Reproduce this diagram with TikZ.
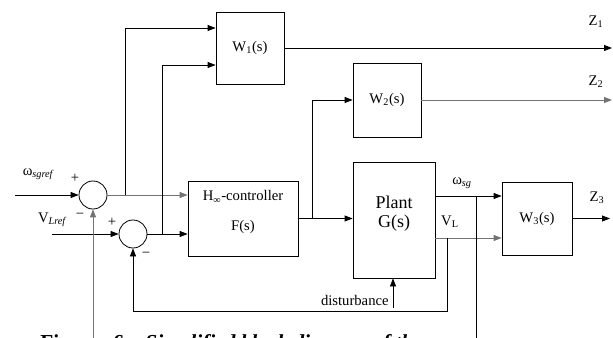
\documentclass[tikz,border=0pt]{standalone}
\usepackage{fontspec}
\setmainfont{Liberation Serif}
\usetikzlibrary{arrows.meta,calc}

\begin{document}
\begin{tikzpicture}[x=.75pt,y=-.75pt,>={Triangle[length=6pt,width=4.5pt]},
  font=\fontsize{11}{13}\selectfont,
  every node/.style={inner sep=0pt},
  line width=.6pt,
  blk/.style={draw,align=center},
  sumj/.style={draw,circle,minimum size=21pt},
  sig/.style={black!55}]
\path[use as bounding box] (0,0) rectangle (613,338);
\clip (0,0) rectangle (613,338);

% summing junctions and blocks
\node[sumj] (s1) at (93,195) {};
\node[sumj] (s2) at (133,234) {};
\node[blk,minimum width=82.5pt,minimum height=56.25pt] (ctrl) at (243,218.5) {};
\node (ctrlh) at (243,197) {H\textsubscript{∞}-controller};
\node (ctrlf) at (243,227) {F(s)};
\node[blk,minimum width=51pt,minimum height=54pt] (W1) at (250,48) {W\textsubscript{1}(s)};
\node[blk,minimum width=51pt,minimum height=55.5pt] (W2) at (387,100) {W\textsubscript{2}(s)};
\node[blk,minimum width=61.5pt,minimum height=87pt] (plant) at (394,220) {};
\node[font=\fontsize{13.5}{16}\selectfont] (plantn) at (394,202) {Plant};
\node[font=\fontsize{13.5}{16}\selectfont] (plantg) at (394,223) {G(s)};
\node[blk,minimum width=52.5pt,minimum height=54.75pt] (W3) at (537,218.5) {W\textsubscript{3}(s)};

% inputs
\coordinate (wsin) at (15,195);
\coordinate (vlin) at (52,234);
\draw[->] (wsin) -- (s1);
\draw[->] (vlin) -- (s2);
\node (wsl) at (38,174) {ω\textsubscript{\itshape sgref}};
\node (vll) at (52,220) {V\textsubscript{\itshape Lref}};
\node (p1) at (75,178) {+};
\node (m1) at (80,216) {−};
\node (p2) at (112,222) {+};
\node (m2) at (146,255) {−};

% errors to controller and W1
\draw[->,sig] (s1) -- (s1 -| ctrl.west);
\draw[->] (s2) -- (s2 -| ctrl.west);
\coordinate (b1) at (125,195);
\coordinate (b2) at (162,234);
\draw[->] (b1) |- ($(W1.west)+(0,-20)$);
\draw[->] (b2) |- ($(W1.west)+(0,17)$);

% control signal
\draw[->] (ctrl.east) -- (ctrl.east -| plant.west);
\coordinate (b3) at (312,218.5);
\draw[->] (b3) |- (W2.west);

% weighted outputs
\coordinate (zend) at (612,0);
\draw[->] (W1.east) -- (W1.east -| zend);
\draw[->,sig] (W2.east) -- (W2.east -| zend);
\draw[->] (W3.east) -- ($(W3.east -| zend)+(-2,0)$);
\node (z1l) at (596,22) {Z\textsubscript{1}};
\node (z2l) at (596,82) {Z\textsubscript{2}};
\node (z3l) at (597,198) {Z\textsubscript{3}};

% plant outputs
\coordinate (jw) at (476,196);
\coordinate (jv) at (447,238);
\draw[->] (plant.east |- jw) -- (W3.west |- jw);
\draw[->,sig] (plant.east |- jv) -- (W3.west |- jv);
\node (wsgl) at (462,183) {ω\textsubscript{\itshape sg}};
\node (vLl) at (450,222) {V\textsubscript{L}};

% feedback paths
\coordinate (fbl) at (133,311);
\draw[->] (jv) |- (fbl) -- (s2.south);
\coordinate (wout) at (476,340);
\draw (jw) -- (wout);
\coordinate (wsfb) at (93,340);
\draw[->,sig] (wsfb) -- (s1.south);

% disturbance
\coordinate (dist) at (393,308);
\draw[->] (dist) -- (dist |- plant.south);
\node[anchor=east] (distl) at (389,300) {disturbance};

% caption (cut off)
\node[anchor=base west,font=\fontsize{16}{19}\selectfont\bfseries] (capa) at (40,349) {Figure};
\node[anchor=base west,font=\fontsize{16}{19}\selectfont\bfseries] (capb) at (113,349)
  {6 – \textit{Simplified block diagram of the}};
\end{tikzpicture}
\end{document}
